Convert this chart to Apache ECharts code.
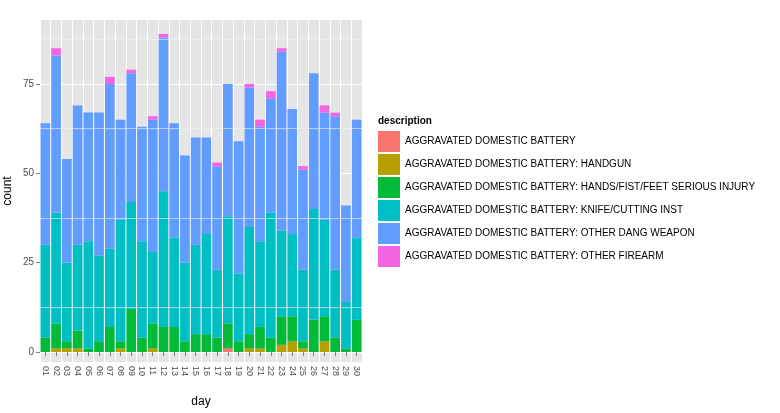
<!DOCTYPE html><html><head><meta charset="utf-8"><script src="https://cdn.jsdelivr.net/npm/echarts@6/dist/echarts.min.js"></script></head><body style="margin:0"><div id="c" style="width:780px;height:413px"></div><script>
const days=['01','02','03','04','05','06','07','08','09','10','11','12','13','14','15','16','17','18','19','20','21','22','23','24','25','26','27','28','29','30'];
const names=['AGGRAVATED DOMESTIC BATTERY','AGGRAVATED DOMESTIC BATTERY: HANDGUN','AGGRAVATED DOMESTIC BATTERY: HANDS/FIST/FEET SERIOUS INJURY','AGGRAVATED DOMESTIC BATTERY: KNIFE/CUTTING INST','AGGRAVATED DOMESTIC BATTERY: OTHER DANG WEAPON','AGGRAVATED DOMESTIC BATTERY: OTHER FIREARM'];
const colors=['#F8766D','#B79F00','#00BA38','#00BFC4','#619CFF','#F564E3'];
const battery=[0,0,0,0,0,0,0,0,0,0,0,0,0,0,0,0,0,1,0,0,0,0,0,0,0,0,0,0,0,0];
const handgun=[0,1,1,1,0,0,0,1,0,0,1,0,0,0,0,0,0,0,0,1,1,0,2,3,1,0,3,0,0,0];
const hands=[4,7,2,5,1,3,7,2,12,4,7,7,7,3,5,5,4,7,3,4,6,4,8,7,2,9,7,4,1,9];
const knife=[26,31,22,24,30,24,22,34,30,27,20,38,25,22,25,28,19,30,19,30,24,35,24,23,20,31,27,19,13,23];
const otherDang=[34,44,29,39,36,40,46,28,36,32,37,43,32,30,30,27,29,37,37,39,32,32,50,35,28,38,30,43,27,33];
const firearm=[0,2,0,0,0,0,2,0,1,0,1,1,0,0,0,0,1,0,0,1,2,2,1,0,1,0,2,1,0,0];
const data=[battery,handgun,hands,knife,otherDang,firearm];
const series=names.map((n,i)=>({name:n,type:'bar',stack:'s',data:data[i],barCategoryGap:'10%',itemStyle:{color:colors[i]},emphasis:{disabled:true}}));
series[0].markLine={silent:true,symbol:'none',label:{show:false},lineStyle:{color:'#F2F2F2',width:0.6,type:'solid'},data:[12.5,37.5,62.5,87.5].map(v=>({yAxis:v}))};
echarts.init(document.getElementById('c')).setOption({
animation:false,backgroundColor:'#fff',
grid:{left:40,right:418,top:20,bottom:51,backgroundColor:'#E5E5E5',show:true,borderWidth:0},
legend:{orient:'vertical',left:378,top:131,padding:0,itemWidth:22,itemHeight:21,itemGap:2,icon:'rect',data:names,textStyle:{fontSize:10,color:'#000',fontFamily:'Liberation Sans'},selectedMode:false},
graphic:[{type:'text',left:378,top:116,style:{text:'description',font:'bold 10px Liberation Sans',fill:'#000'}}],
xAxis:{type:'category',data:days,name:'day',nameLocation:'middle',nameGap:34,nameTextStyle:{fontSize:12,color:'#000',fontFamily:'Liberation Sans'},axisLine:{show:false},axisTick:{show:true,length:4,interval:0,lineStyle:{color:'#7F7F7F'},alignWithLabel:true},axisLabel:{rotate:-90,interval:0,fontSize:9,color:'#4D4D4D',margin:4,fontFamily:'Liberation Sans'},splitLine:{show:true,interval:0,lineStyle:{color:'#fff',width:1}}},
yAxis:{type:'value',min:-2.8,max:92.9,name:'count',nameLocation:'middle',nameGap:26,nameTextStyle:{fontSize:12,color:'#000',fontFamily:'Liberation Sans'},axisLine:{show:false},axisTick:{show:true,length:4,lineStyle:{color:'#7F7F7F'},customValues:[0,25,50,75]},axisLabel:{fontSize:10,color:'#4D4D4D',margin:6,customValues:[0,25,50,75],fontFamily:'Liberation Sans'},splitLine:{show:true,lineStyle:{color:'#fff',width:1}}},
series:series});
</script></body></html>
